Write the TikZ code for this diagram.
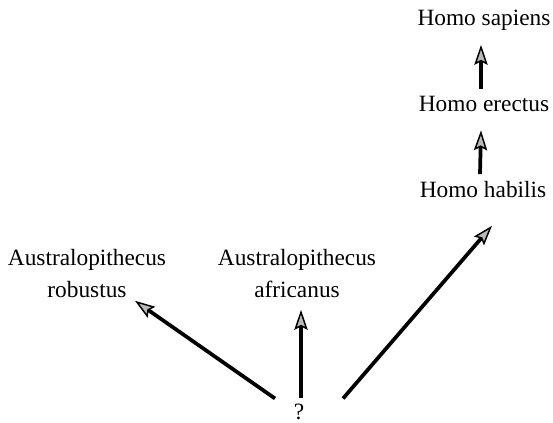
\documentclass[tikz,border=0pt]{standalone}
\usepackage{fontspec}
\setmainfont{Liberation Serif}
\usetikzlibrary{arrows.meta}

\tikzset{
  taxon/.style={align=center, inner sep=1pt, font=\fontsize{17.5}{24}\selectfont},
  evo/.style={line width=2.8pt, -{Stealth[length=15pt, width=10pt, inset=2.5pt, line width=1.1pt, fill=gray!55]}}
}

\begin{document}
\begin{tikzpicture}[x=0.75pt, y=0.75pt]
\useasboundingbox (0,0) rectangle (553,423);

% species
\node[taxon] (sapiens)   at (484,403) {Homo sapiens};
\node[taxon] (erectus)   at (484,319) {Homo erectus};
\node[taxon] (habilis)   at (483,233) {Homo habilis};
\node[taxon] (robustus)  at (87,149)  {Australopithecus\\robustus};
\node[taxon] (africanus) at (297,149) {Australopithecus\\africanus};

% common ancestor
\node[taxon] (q) at (299,11) {?};

% Homo line
\draw[evo] ([shift={(-3,6)}]erectus.north) -- ([shift={(-3,-13)}]sapiens.south);
\draw[evo] ([shift={(-3,6)}]habilis.north) -- ([shift={(-3,-17)}]erectus.south);

% branches from the ancestor
\draw[evo] ([shift={(-24,4)}]q.north) -- ([shift={(48,-1)}]robustus.south);
\draw[evo] ([shift={(2,5)}]q.north) -- ([shift={(4,-10)}]africanus.south);
\draw[evo] ([shift={(44,4)}]q.north) -- ([shift={(9,-26)}]habilis.south);

\end{tikzpicture}
\end{document}
